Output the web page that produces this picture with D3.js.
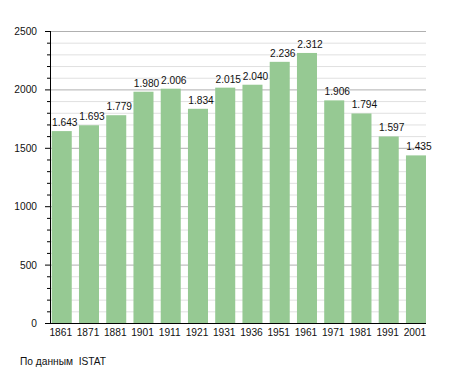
<!DOCTYPE html>
<html><head><meta charset="utf-8">
<script src="https://cdn.jsdelivr.net/npm/d3@7"></script>
<style>body{margin:0;background:#fff}svg{display:block;font-family:"Liberation Sans",Arial,sans-serif}</style>
</head><body><svg id="c" width="455" height="373"></svg>
<script>
const years = ["1861","1871","1881","1901","1911","1921","1931","1936","1951","1961","1971","1981","1991","2001"];
const population = [1643,1693,1779,1980,2006,1834,2015,2040,2236,2312,1906,1794,1597,1435];
const valueLabels = ["1.643","1.693","1.779","1.980","2.006","1.834","2.015","2.040","2.236","2.312","1.906","1.794","1.597","1.435"];
const yMajorTicks = [0,500,1000,1500,2000,2500];
const source = "По данным  ISTAT";

(function(){
const svg = d3.select("#c");
const pl = 50, pr = 426, pt = 31, pb = 323;
const fs = 10.2;
const y = d3.scaleLinear().domain([0,2500]).range([pb, pt]);
const x = d3.scaleBand().domain(years).range([44.5, 433.2]).paddingInner(0.265).paddingOuter(0.265);

const minor = d3.range(0, 2501, 100);
svg.append("g").selectAll("line").data(minor.filter(v => v % 500 !== 0)).join("line")
  .attr("x1", pl).attr("x2", pr).attr("y1", d => y(d)+0.5).attr("y2", d => y(d)+0.5)
  .attr("stroke", "#e0e0e0").attr("stroke-width", 1);
svg.append("g").selectAll("line").data(yMajorTicks.filter(v => v > 0)).join("line")
  .attr("x1", pl).attr("x2", pr).attr("y1", d => y(d)+0.5).attr("y2", d => y(d)+0.5)
  .attr("stroke", "#b0b0b0").attr("stroke-width", 1);

svg.append("g").selectAll("rect").data(population).join("rect")
  .attr("x", (d,i) => x(years[i])).attr("width", x.bandwidth())
  .attr("y", d => y(d)).attr("height", d => pb - y(d))
  .attr("fill", "#96c993");

svg.append("g").selectAll("text").data(population).join("text")
  .attr("x", (d,i) => x(years[i]) + x.bandwidth()/2 + 3)
  .attr("y", d => y(d) - 5)
  .attr("text-anchor", "middle").attr("font-size", fs).attr("fill", "#111")
  .text((d,i) => valueLabels[i]);

svg.append("line").attr("x1", pl+0.5).attr("x2", pl+0.5).attr("y1", pt).attr("y2", pb+0.5).attr("stroke", "#000");
svg.append("line").attr("x1", pl).attr("x2", pr).attr("y1", pb+0.5).attr("y2", pb+0.5).attr("stroke", "#000");
svg.append("g").selectAll("line").data(minor).join("line")
  .attr("x1", d => d % 500 === 0 ? pl-5 : pl-3).attr("x2", pl)
  .attr("y1", d => y(d)+0.5).attr("y2", d => y(d)+0.5).attr("stroke", "#000");
svg.append("g").selectAll("text").data(yMajorTicks).join("text")
  .attr("x", 37).attr("y", d => y(d) + 4)
  .attr("text-anchor", "end").attr("font-size", fs).attr("fill", "#111").text(d => d);
svg.append("g").selectAll("text").data(years).join("text")
  .attr("x", d => x(d) + x.bandwidth()/2 - 1).attr("y", 336)
  .attr("text-anchor", "middle").attr("font-size", fs).attr("fill", "#111").text(d => d);

svg.append("text").attr("x", 20).attr("y", 365).attr("font-size", fs).attr("fill", "#111")
  .style("white-space", "pre").text(source);
})();
</script></body></html>
